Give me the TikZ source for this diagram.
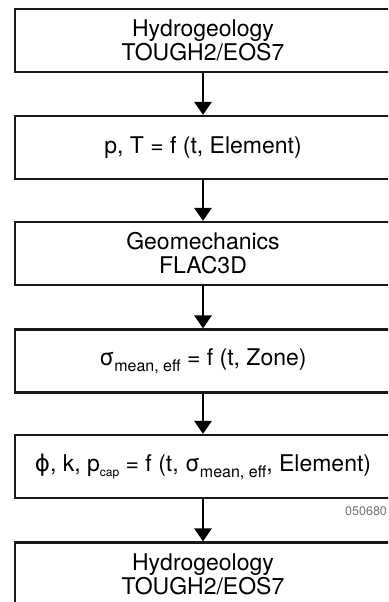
\documentclass[tikz,border=0pt]{standalone}
\usepackage{fontspec}
\setmainfont{TeX Gyre Heros}
\newfontfamily\dvfont{DejaVu Sans}
\usetikzlibrary{arrows.meta}
\newcommand\lowsub[3]{\raisebox{#1}{\fontsize{#2}{#2}\selectfont #3}}
\tikzset{
  flowbox/.style={draw=black!90, line width=2.2pt, rectangle, minimum width=376pt,
    minimum height=63pt, align=center, inner sep=0pt,
    font=\fontsize{23}{24}\selectfont},
  flowarr/.style={line width=2.8pt, -{Triangle[width=17pt,length=13pt]}},
  tag/.style={font=\fontsize{12.5}{14}\selectfont, text=black!55, inner sep=0pt, anchor=west}
}
\begin{document}
\begin{tikzpicture}[x=1pt,y=-1pt]
\useasboundingbox (0,0) rectangle (388,602);
\clip (0,0) rectangle (388,602);
\node[flowbox] (b1) at (203,40.5) {Hydrogeology\\TOUGH2/EOS7};
\node[flowbox] (b2) at (203,147.5) {p, T = f (t, Element)};
\node[flowbox] (b3) at (203,253.5) {Geomechanics\\FLAC3D};
\node[flowbox] (b4) at (203,361) {σ\lowsub{-6pt}{16}{mean, eff} = f (t, Zone)};
\node[flowbox] (b5) at (203,466.5) {{\dvfont ϕ}, k, p\lowsub{-5pt}{12}{cap} = f (t, σ\lowsub{-6pt}{16}{mean, eff}, Element)};
\node[flowbox] (b6) at (203,574) {Hydrogeology\\TOUGH2/EOS7};
\node[tag] (lbl) at (345,511) {050680};
\draw[flowarr] (b1.south) -- (b2.north);
\draw[flowarr] (b2.south) -- (b3.north);
\draw[flowarr] (b3.south) -- (b4.north);
\draw[flowarr] (b4.south) -- (b5.north);
\draw[flowarr] (b5.south) -- (b6.north);
\end{tikzpicture}
\end{document}
